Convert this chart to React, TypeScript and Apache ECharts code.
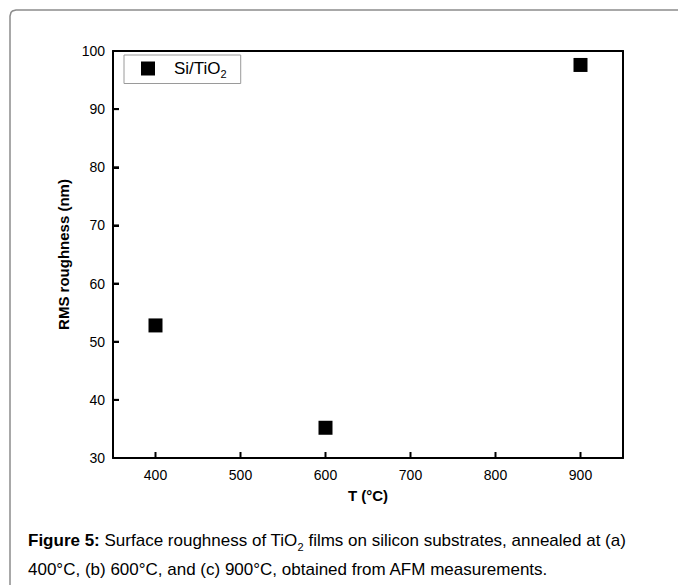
import React, { useEffect, useRef } from "react";
import * as echarts from "echarts";

// Annealing temperatures (°C) and measured RMS roughness (nm)
const temperatures = [400, 600, 900];
const rmsRoughness = [52.8, 35.2, 97.6];

// Major ticks on the bottom and left axes
const xTicks = [400, 500, 600, 700, 800, 900];
const yTicks = [40, 50, 60, 70, 80, 90];

const seriesName = "Si/TiO2";
const captionLine1 = "{b|Figure 5:}{n| Surface roughness of TiO}{s|2}{n| films on silicon substrates, annealed at (a)}";
const captionLine2 = "400°C, (b) 600°C, and (c) 900°C, obtained from AFM measurements.";

const FONT = "'Liberation Sans', Arial, sans-serif";
const X_MIN = 350;
const X_MAX = 950;
const Y_MIN = 30;
const Y_MAX = 100;
const TICK_LEN = 6;

export default function App() {
  const ref = useRef<HTMLDivElement>(null);

  useEffect(() => {
    if (!ref.current) return;
    const chart = echarts.init(ref.current, undefined, { renderer: "svg" });
    const points = temperatures.map((t, i) => [t, rmsRoughness[i]]);
    const frameLine = { show: true, onZero: false, lineStyle: { color: "#000", width: 2 } };
    const tickData = [
      ...xTicks.map((v) => [v, Y_MIN, 0]),
      ...yTicks.map((v) => [X_MIN, v, 1]),
    ];

    chart.setOption({
      animation: false,
      grid: { left: 113, top: 51, width: 510, height: 407 },
      legend: {
        left: 124,
        top: 55,
        orient: "vertical",
        icon: "rect",
        itemWidth: 14,
        itemHeight: 14,
        itemGap: 0,
        padding: [5, 14, 4, 17],
        borderColor: "#9a9a9a",
        borderWidth: 1,
        data: [seriesName],
        formatter: () => "{a|Si/TiO}{s|2}",
        textStyle: {
          padding: [0, 0, 0, 14],
          rich: {
            a: { fontSize: 17, fontFamily: FONT, color: "#000" },
            s: { fontSize: 11, fontFamily: FONT, color: "#000", padding: [11, 0, 0, 0] },
          },
        },
      },
      xAxis: [
        {
          type: "value",
          position: "bottom",
          min: X_MIN,
          max: X_MAX,
          interval: 50,
          name: "T (°C)",
          nameLocation: "middle",
          nameGap: 30,
          nameTextStyle: { fontSize: 15, fontWeight: "bold", color: "#000", fontFamily: FONT },
          splitLine: { show: false },
          axisLine: frameLine,
          axisTick: { show: false },
          axisLabel: {
            show: true,
            fontSize: 14,
            color: "#000",
            margin: 10,
            fontFamily: FONT,
            showMinLabel: false,
            showMaxLabel: false,
            formatter: (v: number) => (xTicks.includes(v) ? String(v) : ""),
          },
        },
        {
          type: "value",
          position: "top",
          min: X_MIN,
          max: X_MAX,
          splitLine: { show: false },
          axisLine: frameLine,
          axisTick: { show: false },
          axisLabel: { show: false },
        },
      ],
      yAxis: [
        {
          type: "value",
          position: "left",
          min: Y_MIN,
          max: Y_MAX,
          interval: 10,
          name: "RMS roughness (nm)",
          nameLocation: "middle",
          nameGap: 32,
          nameTextStyle: { fontSize: 15, fontWeight: "bold", color: "#000", fontFamily: FONT },
          splitLine: { show: false },
          axisLine: frameLine,
          axisTick: { show: true, inside: true, length: TICK_LEN, lineStyle: { width: 2, color: "#000" } },
          axisLabel: { show: true, fontSize: 14, color: "#000", margin: 8, fontFamily: FONT },
        },
        {
          type: "value",
          position: "right",
          min: Y_MIN,
          max: Y_MAX,
          splitLine: { show: false },
          axisLine: frameLine,
          axisTick: { show: false },
          axisLabel: { show: false },
        },
      ],
      series: [
        {
          // inward tick marks on the bottom (kind 0) and left (kind 1) axes
          type: "custom",
          silent: true,
          clip: false,
          z: 10,
          data: tickData,
          renderItem: (_params: any, api: any) => {
            const p = api.coord([api.value(0), api.value(1)]);
            const vertical = api.value(2) === 0;
            return {
              type: "line",
              shape: vertical
                ? { x1: p[0], y1: p[1], x2: p[0], y2: p[1] - TICK_LEN }
                : { x1: p[0], y1: p[1], x2: p[0] + TICK_LEN, y2: p[1] },
              style: { stroke: "#000", lineWidth: 2, fill: null },
            };
          },
        },
        {
          name: seriesName,
          type: "scatter",
          symbol: "rect",
          symbolSize: 14,
          itemStyle: { color: "#000", opacity: 1 },
          data: points,
        },
      ],
      graphic: [
        {
          // rounded frame around figure and caption
          type: "polyline",
          z: -10,
          silent: true,
          shape: {
            points: [
              [10, 600],
              [10, 16],
              [11, 12.5],
              [12.5, 11],
              [16, 10],
              [700, 10],
            ],
          },
          style: { stroke: "#8c8c8c", lineWidth: 1.5, fill: null },
        },
        {
          type: "text",
          left: 28,
          top: 532,
          style: {
            text: captionLine1,
            fill: "#000",
            rich: {
              b: { fontSize: 17, fontWeight: "bold", fontFamily: FONT, fill: "#000" },
              n: { fontSize: 17, fontFamily: FONT, fill: "#000" },
              s: { fontSize: 11, fontFamily: FONT, fill: "#000", padding: [12, 0, 0, 0] },
            },
          },
        },
        {
          type: "text",
          left: 28,
          top: 561,
          style: { text: captionLine2, fontSize: 17, fontFamily: FONT, fill: "#000" },
        },
      ],
    });

    return () => chart.dispose();
  }, []);

  return <div ref={ref} style={{ position: "fixed", left: 0, top: 0, width: 678, height: 585, background: "#fff" }} />;
}
